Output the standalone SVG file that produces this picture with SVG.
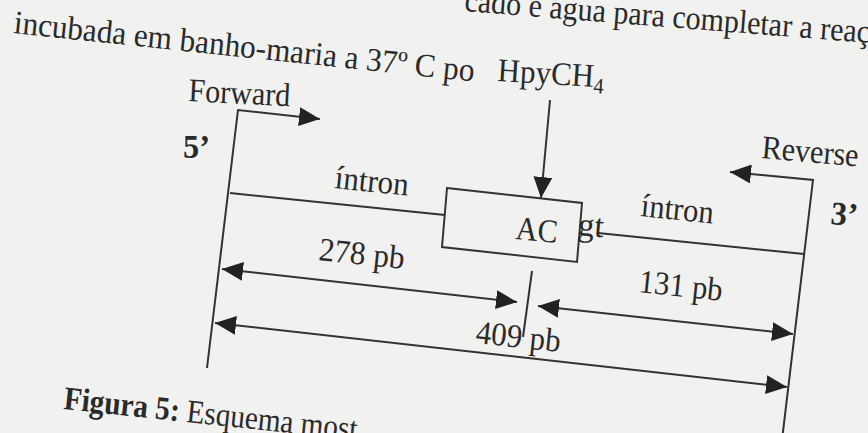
<svg xmlns="http://www.w3.org/2000/svg" width="868" height="433" viewBox="0 0 868 433">
<style>
text{font-family:"Liberation Serif","Times New Roman",serif;fill:#2a2a2a;font-size:33px}
.b{font-weight:bold}
.ln{stroke:#333;stroke-width:2;fill:none}
.box{stroke:#333;stroke-width:2;fill:none}
</style>
<defs>
<marker id="ah" viewBox="0 0 20 18" refX="20" refY="9" markerWidth="21" markerHeight="19" markerUnits="userSpaceOnUse" orient="auto-start-reverse">
<path d="M0,0 L20,9 L0,18 z" fill="#222"/>
</marker>
</defs>
<rect width="868" height="433" fill="#f1f1f0"/>
<g id="page-text">
<text x="464" y="11" textLength="435" lengthAdjust="spacingAndGlyphs" transform="rotate(4.5 464 11)">cado e água para completar a reação</text>
<text x="13" y="33" font-size="34" textLength="463" lengthAdjust="spacingAndGlyphs" transform="rotate(6 13 33)">incubada em banho-maria a 37º C po</text>
<text x="63" y="409" textLength="295" lengthAdjust="spacingAndGlyphs" transform="rotate(6 63 409)"><tspan class="b">Figura 5:</tspan> Esquema most</text>
</g>
<g id="connectors">
<path class="ln" d="M207,368 L238,110 L320,119" marker-end="url(#ah)"/>
<path class="ln" d="M782,440 L813,180 L730,172" marker-end="url(#ah)"/>
<path class="ln" d="M230,193 L445,215"/>
<path class="ln" d="M598,233 L804,254"/>
<path class="ln" d="M550,100 L541,198" marker-end="url(#ah)"/>
<path class="ln" d="M532,271 L523,337"/>
<path class="ln" d="M222,269 L517,302" marker-start="url(#ah)" marker-end="url(#ah)"/>
<path class="ln" d="M538,306 L793,334" marker-start="url(#ah)" marker-end="url(#ah)"/>
<path class="ln" d="M215,323 L787,387" marker-start="url(#ah)" marker-end="url(#ah)"/>
</g>
<g id="enzyme">
<text x="497" y="81" textLength="107" lengthAdjust="spacingAndGlyphs" transform="rotate(3.5 497 81)">HpyCH<tspan font-size="22" dy="6">4</tspan></text>
</g>
<g id="forward">
<text x="188" y="101" textLength="102" lengthAdjust="spacingAndGlyphs" transform="rotate(3 188 101)">Forward</text>
<text class="b" x="183" y="158" font-size="30" textLength="27" lengthAdjust="spacingAndGlyphs">5’</text>
</g>
<g id="reverse">
<text x="761" y="158" textLength="97" lengthAdjust="spacingAndGlyphs" transform="rotate(5 761 158)">Reverse</text>
<text class="b" x="830" y="224" font-size="30" textLength="27" lengthAdjust="spacingAndGlyphs" transform="rotate(5 830 224)">3’</text>
</g>
<g id="intron-left">
<text x="334" y="188" textLength="74" lengthAdjust="spacingAndGlyphs" transform="rotate(6 334 188)">íntron</text>
</g>
<g id="exon">
<polygon class="box" points="447,188 582,203 577,262 442,247"/>
<text x="515" y="239" textLength="42" lengthAdjust="spacingAndGlyphs" transform="rotate(5 515 239)">AC</text>
<text x="577" y="235" textLength="26" lengthAdjust="spacingAndGlyphs" transform="rotate(5 577 235)">gt</text>
</g>
<g id="intron-right">
<text x="640" y="216" textLength="73" lengthAdjust="spacingAndGlyphs" transform="rotate(6 640 216)">íntron</text>
</g>
<g id="sizes">
<text x="318" y="260" textLength="86" lengthAdjust="spacingAndGlyphs" transform="rotate(6 318 260)">278 pb</text>
<text x="638" y="292" textLength="84" lengthAdjust="spacingAndGlyphs" transform="rotate(6 638 292)">131 pb</text>
<text x="475" y="343" textLength="85" lengthAdjust="spacingAndGlyphs" transform="rotate(6 475 343)">409 pb</text>
</g>
</svg>
